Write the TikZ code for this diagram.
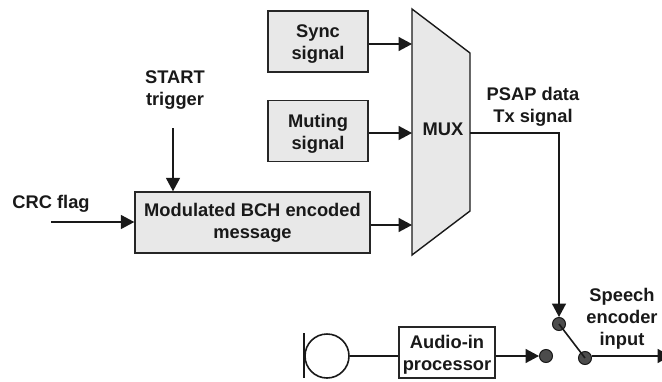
\documentclass[tikz,border=0pt]{standalone}
\usepackage{fontspec}
\setmainfont{Liberation Sans}
\usetikzlibrary{arrows.meta}
\tikzset{
  txt/.style={font=\fontsize{18.3}{22}\selectfont\bfseries, align=center, inner sep=0pt, text=black!90},
  graybox/.style={draw=black!85, line width=1.4pt, fill=black!9, inner sep=0pt, minimum height=61pt},
  whitebox/.style={draw=black!85, line width=1.4pt, fill=white, inner sep=0pt},
  conn/.style={line width=1.6pt, draw=black!90, -{Triangle[length=13.5pt,width=14pt]}},
  plainline/.style={line width=1.6pt, draw=black!90},
  contact/.style={circle, draw=black!90, line width=1pt, fill=black!70, minimum size=13pt, inner sep=0pt}
}
\begin{document}
\begin{tikzpicture}[x=1pt,y=-1pt]
\useasboundingbox (0,0) rectangle (662,381);
\fill[white] (0,0) rectangle (662,381);
\node[graybox, minimum width=100pt] (sync) at (318,41.5) {};
\node[txt] (synct) at (318,44.5) {Sync\\signal};
\node[graybox, minimum width=100pt] (mute) at (318,131) {};
\node[txt] (mutet) at (318,134) {Muting\\signal};
\node[graybox, minimum width=235pt, txt] (bch) at (252.5,222.5) {Modulated BCH encoded\\message};
\draw[draw=black!90, line width=1.4pt, fill=black!9] (412,9) -- (470,53) -- (470,211) -- (412,255) -- cycle;
\node[txt] (mux) at (443,129) {MUX};
\coordinate (mS) at (412,44);
\coordinate (mM) at (412,133);
\coordinate (mB) at (412,225);
\coordinate (mO) at (470,133);
\draw[conn] (sync.east |- mS) -- (mS);
\draw[conn] (mute.east |- mM) -- (mM);
\draw[conn] (bch.east |- mB) -- (mB);
\node[txt] (crc) at (51,204) {CRC flag};
\coordinate (crcS) at (51,222);
\draw[conn] (crcS) -- (bch.west |- crcS);
\node[txt] (start) at (175,90) {START\\trigger};
\coordinate (st) at (173,128);
\draw[conn] (st) -- (st |- bch.north);
\node[txt] (psap) at (533,107) {PSAP data\\Tx signal};
\node[contact] (c1) at (559,324) {};
\node[contact] (c2) at (546,356) {};
\node[contact] (c3) at (585,358) {};
\draw[conn] (mO) -| (559,317);
\draw[plainline] (c1.center) -- (c3.center);
\node[txt] (spk) at (622,319) {Speech\\encoder\\input};
\coordinate (out) at (671,356);
\draw[conn] (c3.east |- out) -- (out);
\node[whitebox, minimum width=96pt, minimum height=51pt] (audio) at (447,352.5) {};
\node[txt] (audiot) at (447,355) {Audio-in\\processor};
\draw[conn] (audio.east |- c2) -- (c2.west);
\node[circle, draw=black!90, line width=1.6pt, minimum size=44pt, inner sep=0pt] (mic) at (327,356) {};
\coordinate (barT) at (304,333);
\coordinate (barB) at (304,378);
\draw[plainline] (barT) -- (barB);
\draw[plainline] (mic.east) -- (audio.west |- mic.east);
\end{tikzpicture}
\end{document}
